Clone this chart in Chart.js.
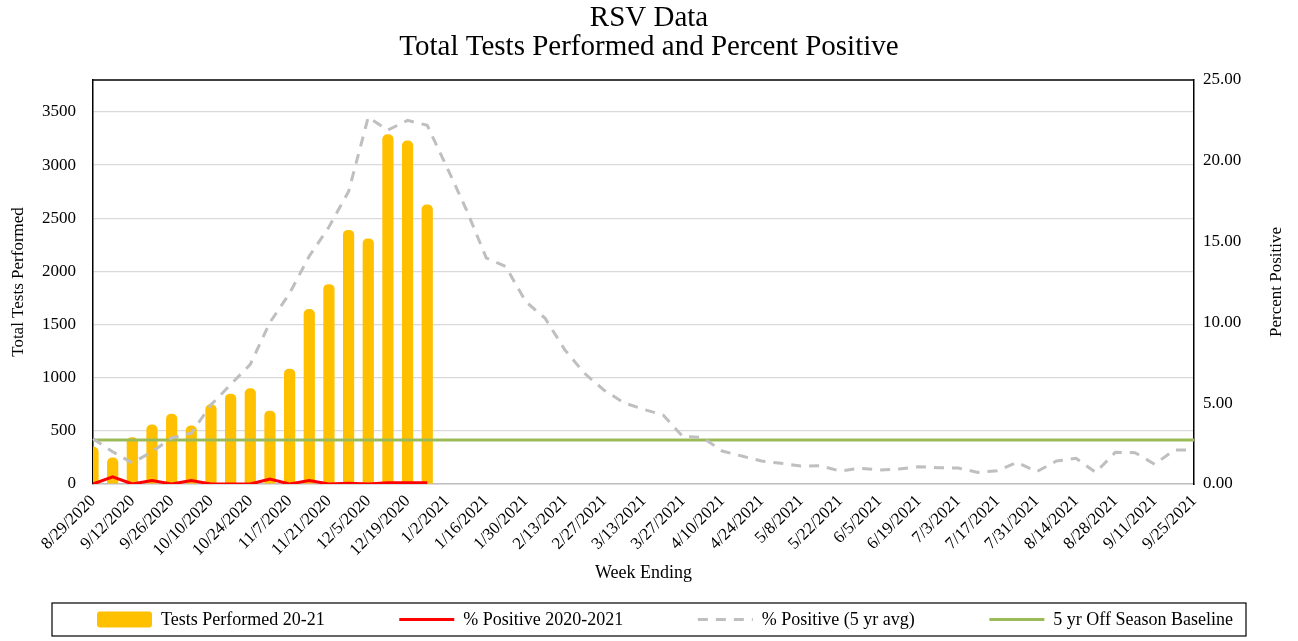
<!DOCTYPE html>
<html>
<head>
<meta charset="utf-8">
<script src="https://cdn.jsdelivr.net/npm/chart.js@4.4.0/dist/chart.umd.min.js"></script>
<style>
html,body{margin:0;padding:0;background:#fff;}
#wrap{width:1298px;height:641px;position:relative;background:#fff;}
</style>
</head>
<body>
<div id="wrap"><canvas id="c" width="1298" height="641"></canvas></div>
<script>
const weekLabels = [
  '8/29/2020','9/5/2020','9/12/2020','9/19/2020','9/26/2020','10/3/2020','10/10/2020','10/17/2020',
  '10/24/2020','10/31/2020','11/7/2020','11/14/2020','11/21/2020','11/28/2020','12/5/2020','12/12/2020',
  '12/19/2020','12/26/2020','1/2/2021','1/9/2021','1/16/2021','1/23/2021','1/30/2021','2/6/2021',
  '2/13/2021','2/20/2021','2/27/2021','3/6/2021','3/13/2021','3/20/2021','3/27/2021','4/3/2021',
  '4/10/2021','4/17/2021','4/24/2021','5/1/2021','5/8/2021','5/15/2021','5/22/2021','5/29/2021',
  '6/5/2021','6/12/2021','6/19/2021','6/26/2021','7/3/2021','7/10/2021','7/17/2021','7/24/2021',
  '7/31/2021','8/7/2021','8/14/2021','8/21/2021','8/28/2021','9/4/2021','9/11/2021','9/18/2021',
  '9/25/2021'
];
const testsPerformed = [350,250,440,560,660,550,750,850,900,690,1085,1645,1880,2390,2310,3290,3230,2630];
const pctPositive2021 = [0,0.45,0,0.22,0,0.22,0,0,0,0.3,0,0.22,0,0.05,0,0.07,0.07,0.07];
const pctPositive5yr = [2.8,2.0,1.3,2.0,2.85,3.15,4.9,6.15,7.4,10.0,11.8,14.1,15.9,18.1,22.7,21.9,22.5,22.2,
  19.6,16.95,14.0,13.45,11.3,10.25,8.3,6.85,5.8,5.03,4.62,4.27,2.93,2.89,2.04,1.73,1.42,1.28,1.11,1.13,
  0.8,0.97,0.87,0.93,1.07,1.01,0.99,0.72,0.82,1.34,0.76,1.42,1.59,0.72,1.96,1.94,1.22,2.1,2.1];
const offSeasonBaseline = 2.72;
const leftTickValues = [0,500,1000,1500,2000,2500,3000,3500];
const leftAxisMax = 3800;
const rightTickValues = [0,5,10,15,20,25];

const FONT = "'Liberation Serif', 'Times New Roman', serif";

const baselineData = [
  {x: weekLabels[0], y: offSeasonBaseline},
  {x: weekLabels[weekLabels.length-1], y: offSeasonBaseline}
];

const framePlugin = {
  id: 'frame',
  afterDraw(chart) {
    const ctx = chart.ctx, a = chart.chartArea;
    ctx.save();
    ctx.strokeStyle = '#000'; ctx.lineWidth = 1.5;
    ctx.beginPath(); ctx.moveTo(a.left, a.top); ctx.lineTo(a.right, a.top); ctx.stroke();
    ctx.fillStyle = '#000';
    ctx.font = "17px " + FONT;
    ctx.textAlign = 'center'; ctx.textBaseline = 'middle';
    ctx.translate(chart.scales.y2.right - 21, (a.top + a.bottom) / 2);
    ctx.rotate(-Math.PI / 2);
    ctx.fillText('Percent Positive', 0, 0);
    ctx.restore();

    ctx.save();
    const frameW = 1194, frameH = 33;
    const fx = (chart.width - frameW) / 2;
    const fy = chart.height - 38;
    ctx.strokeStyle = '#000'; ctx.lineWidth = 1.2;
    ctx.strokeRect(fx, fy, frameW, frameH);
    ctx.font = "18px " + FONT;
    const marker = 55, gapText = 9;
    const items = chart.data.datasets.map(ds => ({ds, w: marker + gapText + ctx.measureText(ds.label).width}));
    const innerL = fx + 45, innerR = fx + frameW - 13;
    const total = items.reduce((s, it) => s + it.w, 0);
    const gap = (innerR - innerL - total) / (items.length - 1);
    let x = innerL;
    const cy = fy + frameH / 2;
    items.forEach(it => {
      const ds = it.ds;
      if (ds.type === 'bar') {
        ctx.fillStyle = ds.backgroundColor;
        ctx.beginPath();
        ctx.roundRect(x, cy - 8, marker, 16, 3);
        ctx.fill();
      } else {
        ctx.strokeStyle = ds.borderColor; ctx.lineWidth = 3;
        ctx.setLineDash(ds.borderDash || []);
        ctx.beginPath(); ctx.moveTo(x, cy); ctx.lineTo(x + marker, cy); ctx.stroke();
        ctx.setLineDash([]);
      }
      ctx.fillStyle = '#000'; ctx.textAlign = 'left'; ctx.textBaseline = 'middle';
      ctx.fillText(ds.label, x + marker + gapText, cy + 1);
      x += it.w + gap;
    });
    ctx.restore();
  }
};

const bgPlugin = {
  id: 'bg',
  beforeDraw(chart) {
    const ctx = chart.ctx; ctx.save(); ctx.fillStyle = '#fff';
    ctx.fillRect(0, 0, chart.width, chart.height); ctx.restore();
  }
};

new Chart(document.getElementById('c'), {
  type: 'bar',
  data: {
    labels: weekLabels,
    datasets: [
      {type:'bar', label:'Tests Performed 20-21', data: testsPerformed, backgroundColor:'#FFC000',
       borderRadius:{topLeft:5, topRight:5, bottomLeft:0, bottomRight:0}, borderSkipped:false,
       barPercentage:1, categoryPercentage:0.57, yAxisID:'y', order:4},
      {type:'line', label:'% Positive 2020-2021', data: pctPositive2021, borderColor:'#FF0000',
       backgroundColor:'#FF0000', borderWidth:3, pointRadius:0, tension:0, yAxisID:'y2', order:1},
      {type:'line', label:'% Positive (5 yr avg)', data: pctPositive5yr, borderColor:'#BFBFBF',
       backgroundColor:'#BFBFBF', borderWidth:3, borderDash:[10,8], pointRadius:0, tension:0, yAxisID:'y2', order:2},
      {type:'line', label:'5 yr Off Season Baseline', data: baselineData, borderColor:'#9BBB59',
       backgroundColor:'#9BBB59', borderWidth:3, pointRadius:0, tension:0, yAxisID:'y2', order:3}
    ]
  },
  options: {
    responsive: false,
    animation: false,
    devicePixelRatio: 1,
    layout: {padding: {left: 0, right: 0, top: 0, bottom: 42}},
    plugins: {
      legend: {display: false},
      tooltip: {enabled: false},
      title: {
        display: true,
        text: ['RSV Data', 'Total Tests Performed and Percent Positive'],
        color: '#000',
        font: {family: FONT, size: 29, weight: 'normal', lineHeight: 1.0},
        padding: {top: 4, bottom: 18}
      }
    },
    scales: {
      x: {
        type: 'category',
        offset: false,
        grid: {display: false, drawTicks: false},
        border: {display: true, color: '#BFBFBF', width: 1.5},
        ticks: {
          autoSkip: false, maxRotation: 45, minRotation: 45, padding: 7,
          color: '#000', font: {family: FONT, size: 17},
          callback: (v, i) => (i % 2 === 0 ? weekLabels[i] : '')
        },
        title: {display: true, text: 'Week Ending', color: '#000',
          font: {family: FONT, size: 18}, padding: {top: 0, bottom: 15}},
        afterFit: s => { s.height = 115; }
      },
      y: {
        position: 'left',
        min: 0, max: leftAxisMax,
        afterBuildTicks: s => { s.ticks = leftTickValues.map(v => ({value: v})); },
        ticks: {padding: 17, color: '#000', font: {family: FONT, size: 17},
          callback: v => String(v)},
        grid: {color: '#D9D9D9', lineWidth: 1.2, drawTicks: false},
        border: {display: true, color: '#000', width: 1.5},
        title: {display: true, text: 'Total Tests Performed', color: '#000',
          font: {family: FONT, size: 17}, padding: {top: 8, bottom: 0}},
        afterFit: s => { s.width = 93; }
      },
      y2: {
        position: 'right',
        min: rightTickValues[0], max: rightTickValues[rightTickValues.length - 1],
        afterBuildTicks: s => { s.ticks = rightTickValues.map(v => ({value: v})); },
        ticks: {padding: 9, color: '#000', font: {family: FONT, size: 17},
          callback: v => Number(v).toFixed(2)},
        grid: {display: false, drawTicks: false},
        border: {display: true, color: '#000', width: 1.5},
        afterFit: s => { s.width = 104; }
      }
    }
  },
  plugins: [bgPlugin, framePlugin]
});
</script>
</body>
</html>
